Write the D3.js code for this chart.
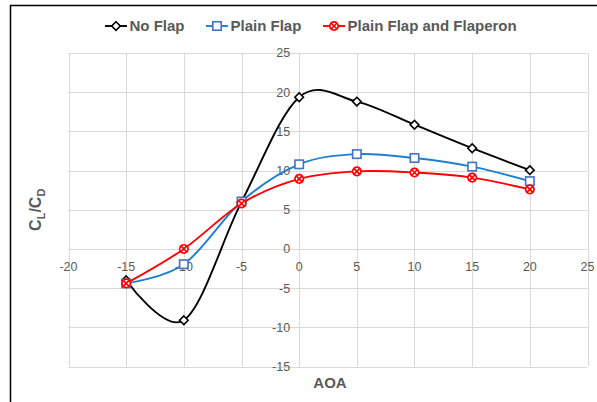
<!DOCTYPE html>
<html><head><meta charset="utf-8">
<script src="https://cdn.jsdelivr.net/npm/d3@7"></script>
<style>body{margin:0;background:#fff}svg{display:block}</style>
</head><body>
<script>
const aoa = [-15, -10, -5, 0, 5, 10, 15, 20];
const noFlap = [-4.0, -9.1, 6.0, 19.36, 18.8, 15.85, 12.85, 10.05];
const plainFlap = [-4.4, -1.95, 6.05, 10.8, 12.1, 11.6, 10.5, 8.65];
const flaperon = [-4.4, 0.0, 5.8, 8.94, 9.9, 9.75, 9.1, 7.6];
const seriesNames = ["No Flap", "Plain Flap", "Plain Flap and Flaperon"];
const xTicks = [-20, -15, -10, -5, 0, 5, 10, 15, 20, 25];
const yTicks = [-15, -10, -5, 0, 5, 10, 15, 20, 25];

const W = 597, H = 402;
const svg = d3.select("body").append("svg").attr("width", W).attr("height", H);
const font = "'Liberation Sans', Arial, sans-serif";
const txt = "#595959";

// outer frame (left and top border)
svg.append("path").attr("d", `M10.5,${H} L10.5,5.5 L${W},5.5`)
  .attr("fill", "none").attr("stroke", "#000").attr("stroke-width", 1.5);

const x = d3.scaleLinear().domain([-20, 25]).range([68.5, 587.5]);
const y = d3.scaleLinear().domain([-15, 25]).range([366.5, 53]);

const g = svg.append("g");
// grid
g.selectAll(".vg").data(xTicks).join("line")
  .attr("x1", d => Math.round(x(d)) + 0.5).attr("x2", d => Math.round(x(d)) + 0.5)
  .attr("y1", y(25)).attr("y2", y(-15)).attr("stroke", "#d9d9d9").attr("stroke-width", 1);
g.selectAll(".hg").data(yTicks).join("line")
  .attr("y1", d => Math.round(y(d)) + 0.5).attr("y2", d => Math.round(y(d)) + 0.5)
  .attr("x1", x(-20)).attr("x2", x(25)).attr("stroke", "#d9d9d9").attr("stroke-width", 1);

// tick labels
g.selectAll(".xl").data(xTicks).join("text")
  .attr("x", d => x(d)).attr("y", y(0) + 22)
  .attr("text-anchor", "middle").attr("font-family", font).attr("font-size", 12.5)
  .attr("fill", txt).text(d => d);
g.selectAll(".yl").data(yTicks).join("text")
  .attr("x", x(0) - 9).attr("y", d => y(d)).attr("dy", "0.35em")
  .attr("text-anchor", "end").attr("font-family", font).attr("font-size", 12.5)
  .attr("fill", txt).text(d => d);

// axis titles
svg.append("text").attr("x", x(2.5) + 2).attr("y", 388).attr("text-anchor", "middle")
  .attr("font-family", font).attr("font-size", 15).attr("font-weight", "bold")
  .attr("fill", txt).text("AOA");
const yt = svg.append("text").attr("transform", `translate(41,${y(5)}) rotate(-90)`)
  .attr("text-anchor", "middle").attr("font-family", font).attr("font-size", 16)
  .attr("font-weight", "bold").attr("fill", txt);
yt.append("tspan").text("C");
yt.append("tspan").attr("font-size", 11).attr("dy", 4).text("L");
yt.append("tspan").attr("dy", -4).text("/C");
yt.append("tspan").attr("font-size", 11).attr("dy", 4).text("D");

const colors = ["#000000", "#1f7fcf", "#ff0000"];
const markColors = ["#000000", "#4472c4", "#ff0000"];
const data = [noFlap, plainFlap, flaperon];
const line = d3.line().x(d => x(d[0])).y(d => y(d[1])).curve(d3.curveCardinal.tension(0));

function marker(sel, i) {
  if (i === 0) {
    sel.append("path").attr("d", "M0,-4.3 L4.3,0 L0,4.3 L-4.3,0 Z")
      .attr("fill", "#fff").attr("stroke", markColors[0]).attr("stroke-width", 1.6);
  } else if (i === 1) {
    sel.append("rect").attr("x", -4.2).attr("y", -4.2).attr("width", 8.4).attr("height", 8.4)
      .attr("fill", "#fff").attr("stroke", markColors[1]).attr("stroke-width", 1.6);
  } else {
    sel.append("circle").attr("r", 4.2).attr("fill", "#fff")
      .attr("stroke", markColors[2]).attr("stroke-width", 1.7);
    sel.append("path").attr("d", "M-3,-3 L3,3 M-3,3 L3,-3")
      .attr("stroke", markColors[2]).attr("stroke-width", 1.7);
  }
}

data.forEach((vals, i) => {
  const pts = aoa.map((a, k) => [a, vals[k]]);
  g.append("path").attr("d", line(pts)).attr("fill", "none")
    .attr("stroke", colors[i]).attr("stroke-width", 1.9);
  pts.forEach(p => {
    const m = g.append("g").attr("transform", `translate(${x(p[0])},${y(p[1])})`);
    marker(m, i);
  });
});

// legend
const legX = [105, 206, 323];
seriesNames.forEach((name, i) => {
  const lg = svg.append("g").attr("transform", `translate(${legX[i]},26)`);
  lg.append("line").attr("x1", 0).attr("x2", 22).attr("stroke", colors[i]).attr("stroke-width", 1.9);
  const m = lg.append("g").attr("transform", "translate(11,0)");
  marker(m, i);
  lg.append("text").attr("x", 24.5).attr("dy", "0.36em").attr("font-family", font)
    .attr("font-size", 15).attr("font-weight", "bold").attr("fill", txt).text(name);
});
</script>
</body></html>
